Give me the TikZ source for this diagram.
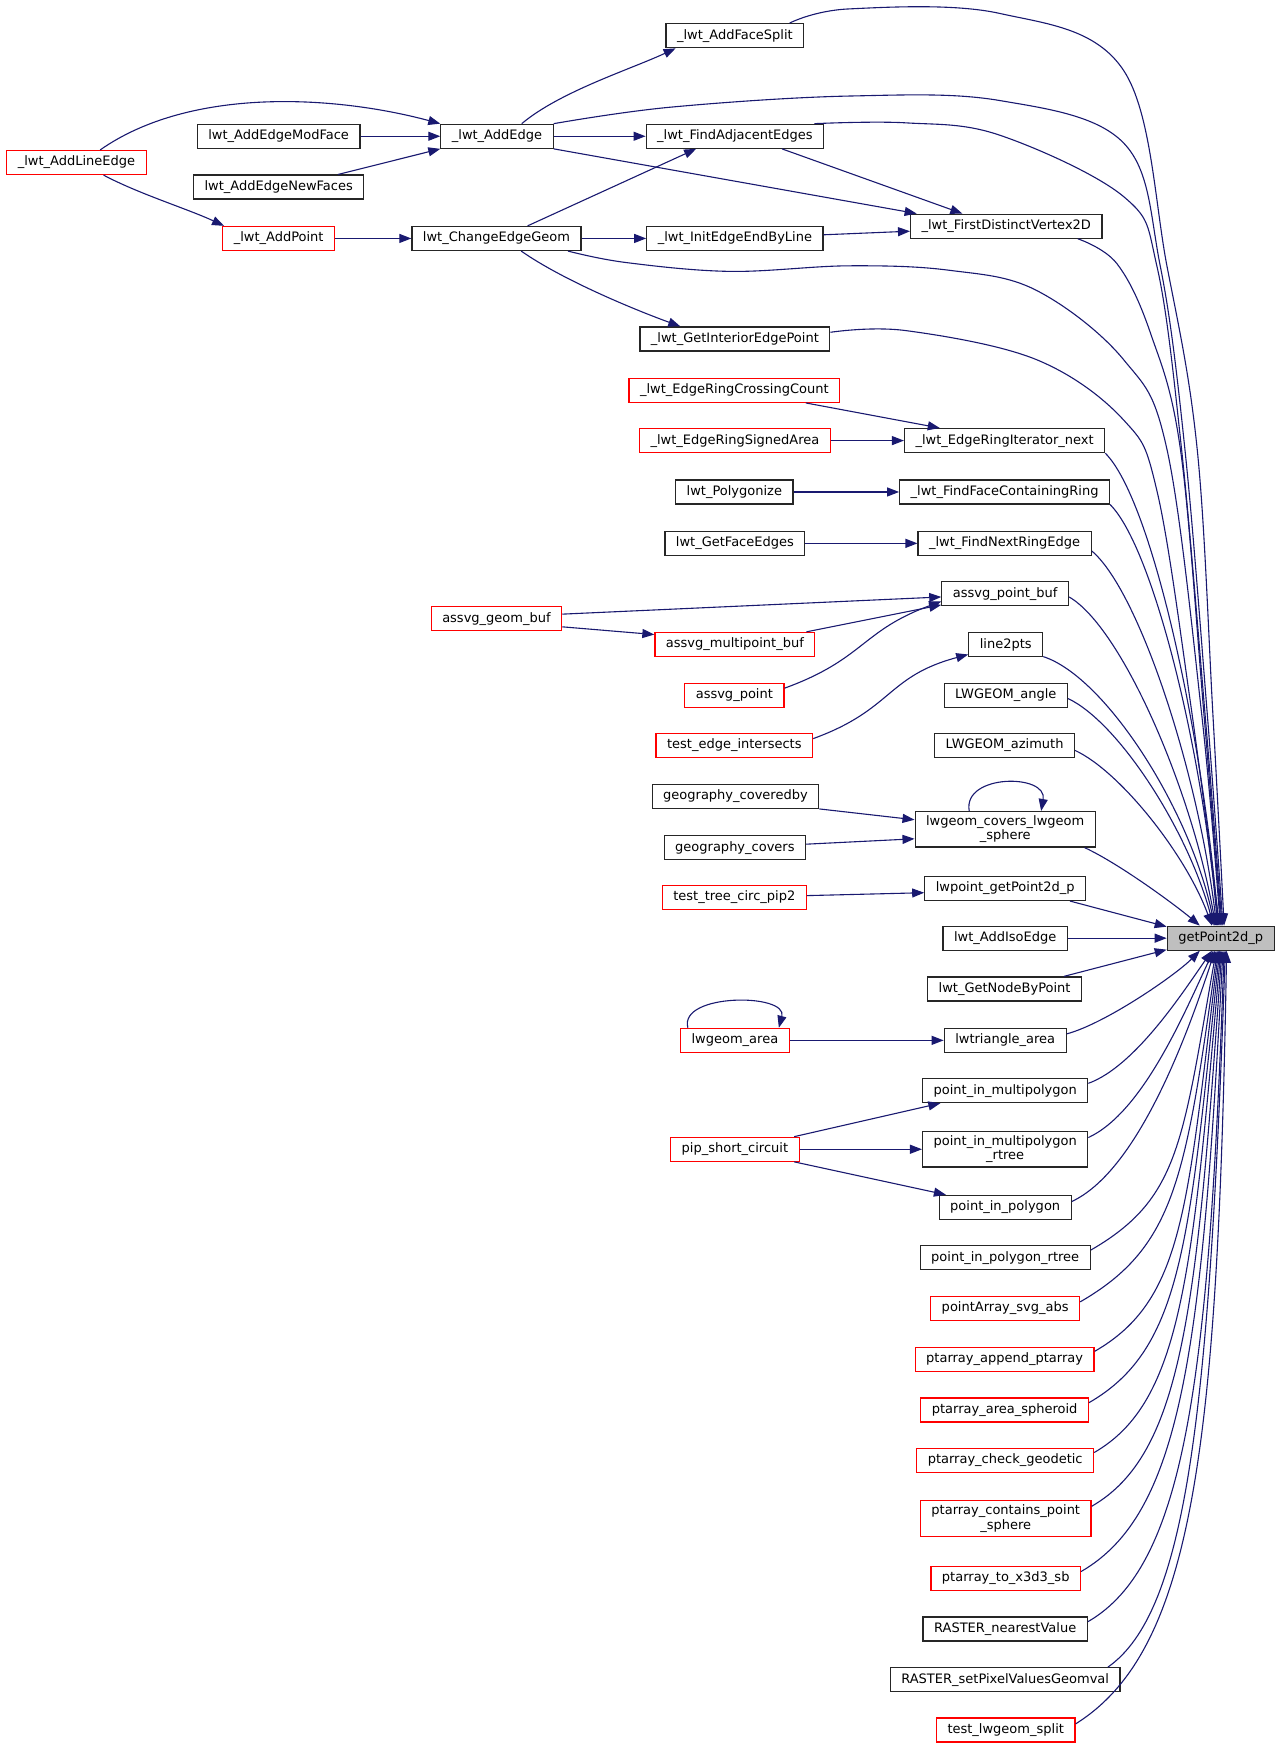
\documentclass[tikz,border=0pt]{standalone}
\usepackage{fontspec}
\setmainfont{DejaVu Sans}
\usetikzlibrary{arrows.meta}
\definecolor{callblue}{RGB}{25,25,112}
\definecolor{nodegray}{RGB}{191,191,191}

\begin{document}
\begin{tikzpicture}[x=1.1168pt,y=-1.1168pt,
    fn/.style={draw=black!85, fill=white, line width=1.2pt, inner xsep=11pt, inner ysep=4pt,
      minimum height=24pt, align=center, font=\fontsize{13pt}{14.5pt}\selectfont},
    fnred/.style={fn, draw=red},
    fncur/.style={fn, fill=nodegray},
    call/.style={draw=callblue, line width=1.1pt, -{Triangle[length=12pt,width=9pt]}}]
        \path[use as bounding box, fill=white] (0,0) rectangle (1147,1566);
        %%%CALLERS OF getPoint2d_p%%%
        %topology part
        \node[fn] (split) at (658,32) {\_lwt\_AddFaceSplit};
        \node[fn] (addedge) at (445,122) {\_lwt\_AddEdge};
        \node[fn] (modface) at (249.5,122) {lwt\_AddEdgeModFace};
        \node[fn] (newfaces) at (249.5,167.5) {lwt\_AddEdgeNewFaces};
        \node[fnred] (lineedge) at (68.5,145.5) {\_lwt\_AddLineEdge};
        \node[fn] (adjacent) at (658,122) {\_lwt\_FindAdjacentEdges};
        \node[fn] (firstv) at (901,202.5) {\_lwt\_FirstDistinctVertex2D};
        \node[fnred] (addpoint) at (249.5,213.5) {\_lwt\_AddPoint};
        \node[fn] (change) at (444.5,213.5) {lwt\_ChangeEdgeGeom};
        \node[fn] (initedge) at (658,213.5) {\_lwt\_InitEdgeEndByLine};
        \node[fn] (interior) at (658,303.5) {\_lwt\_GetInteriorEdgePoint};
        \node[fnred] (crossing) at (657.5,349.5) {\_lwt\_EdgeRingCrossingCount};
        \node[fn] (ringnext) at (899.5,394.5) {\_lwt\_EdgeRingIterator\_next};
        \node[fnred] (signed) at (658,394.5) {\_lwt\_EdgeRingSignedArea};
        \node[fn] (polygonize) at (657.5,440.5) {lwt\_Polygonize};
        \node[fn] (facering) at (899.5,440.5) {\_lwt\_FindFaceContainingRing};
        \node[fn] (faceedges) at (658,486.5) {lwt\_GetFaceEdges};
        \node[fn] (nextring) at (899.5,486.5) {\_lwt\_FindNextRingEdge};
        %svg output
        \node[fn] (pointbuf) at (900,531.5) {assvg\_point\_buf};
        \node[fnred] (geombuf) at (444.5,554) {assvg\_geom\_buf};
        \node[fnred] (multibuf) at (658,577) {assvg\_multipoint\_buf};
        \node[fn] (line2pts) at (900.5,577) {line2pts};
        \node[fnred] (svgpoint) at (657.5,622.5) {assvg\_point};
        \node[fn] (angle) at (900.5,622.5) {LWGEOM\_angle};
        \node[fnred] (intersects) at (657.5,667.5) {test\_edge\_intersects};
        \node[fn] (azimuth) at (899.5,667.5) {LWGEOM\_azimuth};
        %geography and misc
        \node[fn] (coveredby) at (658.5,713) {geography\_coveredby};
        \node[fn] (covers) at (900,742.5) {lwgeom\_covers\_lwgeom\\\_sphere};
        \node[fn] (gcovers) at (658,759) {geography\_covers};
        \node[fnred] (pip2) at (657.5,803.5) {test\_tree\_circ\_pip2};
        \node[fn] (lwpoint) at (900,795.5) {lwpoint\_getPoint2d\_p};
        \node[fn] (isoedge) at (900,840) {lwt\_AddIsoEdge};
        \node[fncur] (g) at (1093,840) {getPoint2d\_p};
        \node[fn] (nodebypoint) at (899.5,885.5) {lwt\_GetNodeByPoint};
        \node[fnred] (area) at (658,931.5) {lwgeom\_area};
        \node[fn] (triangle) at (900,931.5) {lwtriangle\_area};
        \node[fn] (pim) at (900,976.5) {point\_in\_multipolygon};
        \node[fnred] (pipshort) at (658,1029) {pip\_short\_circuit};
        \node[fn] (pimr) at (900,1029) {point\_in\_multipolygon\\\_rtree};
        \node[fn] (pip) at (900,1081) {point\_in\_polygon};
        \node[fn] (pipr) at (900,1126) {point\_in\_polygon\_rtree};
        \node[fnred] (svgabs) at (900,1171.5) {pointArray\_svg\_abs};
        \node[fnred] (append) at (899.5,1217) {ptarray\_append\_ptarray};
        \node[fnred] (spheroid) at (899.5,1262.5) {ptarray\_area\_spheroid};
        \node[fnred] (geodetic) at (900,1307.5) {ptarray\_check\_geodetic};
        \node[fnred] (cps) at (900.5,1359.5) {ptarray\_contains\_point\\\_sphere};
        \node[fnred] (x3d) at (900.5,1413) {ptarray\_to\_x3d3\_sb};
        \node[fn] (nearest) at (900,1458.5) {RASTER\_nearestValue};
        \node[fn] (setpixel) at (900,1504) {RASTER\_setPixelValuesGeomval};
        \node[fnred] (split2) at (900.5,1549) {test\_lwgeom\_split};
        %calls inside the left part
        \draw[call] (lineedge.28) to[out=35,in=165,out distance=110pt,in distance=110pt] (addedge.north west);
        \draw[call] (lineedge.-25) to[out=-28,in=155,out distance=40pt,in distance=40pt] (addpoint.167);
        \draw[call] (modface) -- (addedge);
        \draw[call] (newfaces.12) -- (addedge.south west);
        \draw[call] (addpoint) -- (change);
        \draw[call] (addedge.27) to[out=40,in=-155,out distance=50pt,in distance=50pt] (split.192);
        \draw[call] (addedge) -- (adjacent);
        \draw[call] (addedge.south east) -- (firstv.172);
        \draw[call] (change.22) -- (adjacent.198);
        \draw[call] (change) -- (initedge);
        \draw[call] (change.-27) to[out=-35,in=160,out distance=50pt,in distance=50pt] (interior.167);
        \draw[call] (adjacent.-15) -- (firstv.164);
        \draw[call] (initedge) -- (firstv.183);
        \draw[call] (crossing.-10) -- (ringnext.169);
        \draw[call] (signed) -- (ringnext);
        \draw[call] (polygonize) -- (facering);
        \draw[call] (faceedges) -- (nextring);
        \draw[call] (geombuf.4) -- (pointbuf.183);
        \draw[call] (geombuf.-7) -- (multibuf.173);
        \draw[call] (multibuf.10) -- (pointbuf.190);
        \draw[call] (svgpoint.8) to[out=20,in=-160,out distance=85pt,in distance=85pt] (pointbuf.187);
        \draw[call] (intersects.5) to[out=20,in=-165,out distance=85pt,in distance=85pt] (line2pts);
        \draw[call] (coveredby.south east) -- (covers.174);
        \draw[call] (gcovers) -- (covers.186);
        \draw[call] (covers.153) to[out=100,in=80,distance=38pt] (covers.27);
        \draw[call] (pip2) -- (lwpoint.183);
        \draw[call] (area.165) to[out=105,in=75,distance=36pt] (area.16);
        \draw[call] (area) -- (triangle);
        \draw[call] (pipshort.12) -- (pim.191);
        \draw[call] (pipshort) -- (pimr);
        \draw[call] (pipshort.-12) -- (pip.168);
        %long calls from above
        \draw[call] plot[smooth,tension=.6] coordinates {(split.13) (760,8) (895,12) (1006,63) (1045,239) (1072,403) (1086,640) (g.75)};
        \draw[call] plot[smooth,tension=.6] coordinates {(addedge.north east) (600,96) (760,86) (895,90) (1006,128) (1039,239) (1061,403) (1081,640) (g.80)};
        \draw[call] plot[smooth,tension=.6] coordinates {(adjacent.9) (811,110) (895,121) (1006,176) (1036,239) (1058,403) (1079,640) (g.84)};
        \draw[call] plot[smooth,tension=.6] coordinates {(firstv.-10) (1000,236) (1030,298) (1057,403) (1078,640) (g.88)};
        \draw[call] plot[smooth,tension=.6] coordinates {(change.-10) (560,235) (654,243) (760,238) (850,242) (928,260) (1006,322) (1045,403) (1076,640) (g.92)};
        \draw[call] plot[smooth,tension=.6] coordinates {(interior.4) (811,296) (928,322) (1006,376) (1036,440) (1066,630) (g.96)};
        %calls from the right column
        \draw[call] (ringnext.south east) to[out=-45,in=95,out distance=65pt,in distance=200pt] (g.100);
        \draw[call] (facering.south east) to[out=-45,in=95,out distance=60pt,in distance=180pt] (g.104);
        \draw[call] (nextring.-5) to[out=-40,in=97,out distance=60pt,in distance=160pt] (g.108);
        \draw[call] (pointbuf.-3) to[out=-30,in=100,out distance=60pt,in distance=140pt] (g.112);
        \draw[call] (line2pts) to[out=-18,in=102,out distance=65pt,in distance=120pt] (g.116);
        \draw[call] (angle.-3) to[out=-25,in=105,out distance=55pt,in distance=100pt] (g.120);
        \draw[call] (azimuth.-4) to[out=-25,in=110,out distance=50pt,in distance=75pt] (g.125);
        \draw[call] (covers.-13) to[out=-25,in=140,out distance=40pt,in distance=30pt] (g.149);
        \draw[call] (lwpoint.-11) -- (g.168);
        \draw[call] (isoedge) -- (g);
        \draw[call] (nodebypoint.12) -- (g.192);
        \draw[call] (triangle.6) to[out=15,in=-135,out distance=40pt,in distance=35pt] (g.211);
        %calls from below
        \draw[call] (pim.5) to[out=20,in=-125,out distance=50pt,in distance=50pt] (g.235);
        \draw[call] (pimr.8) to[out=25,in=-115,out distance=60pt,in distance=70pt] (g.240);
        \draw[call] (pip.5) to[out=25,in=-108,out distance=70pt,in distance=100pt] (g.245);
        \draw[call] (pipr.5) to[out=30,in=-100,out distance=102pt,in distance=196pt] (g.250);
        \draw[call] (svgabs.5) to[out=30,in=-98,out distance=110pt,in distance=229pt] (g.255);
        \draw[call] (append.5) to[out=30,in=-97,out distance=103pt,in distance=261pt] (g.260);
        \draw[call] (spheroid.5) to[out=30,in=-96,out distance=108pt,in distance=294pt] (g.265);
        \draw[call] (geodetic.5) to[out=30,in=-95,out distance=101pt,in distance=327pt] (g.270);
        \draw[call] (cps.8) to[out=30,in=-94,out distance=105pt,in distance=361pt] (g.275);
        \draw[call] (x3d.5) to[out=30,in=-93,out distance=115pt,in distance=404pt] (g.280);
        \draw[call] (nearest.5) to[out=30,in=-92,out distance=111pt,in distance=436pt] (g.285);
        \draw[call] (setpixel.7) to[out=35,in=-92,out distance=96pt,in distance=466pt] (g.290);
        \draw[call] (split2.5) to[out=32,in=-91,out distance=138pt,in distance=500pt] (g.295);
\end{tikzpicture}
\end{document}
